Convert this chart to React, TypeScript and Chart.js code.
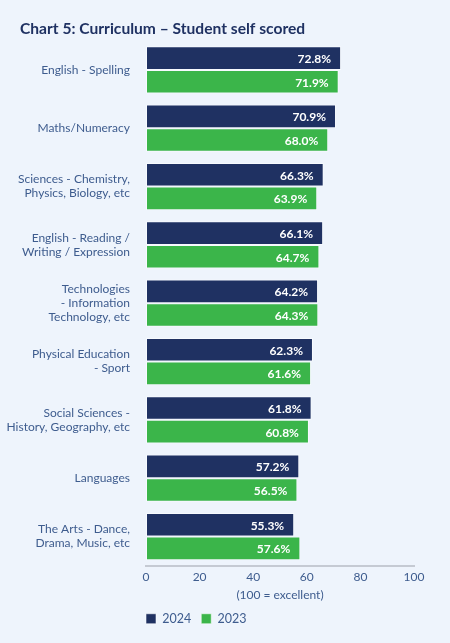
import React, { useEffect, useRef } from "react";
import { Chart, registerables } from "chart.js";

Chart.register(...registerables);

const TITLE = "Chart 5: Curriculum – Student self scored";
const categories: (string | string[])[] = [
  "English - Spelling",
  "Maths/Numeracy",
  ["Sciences - Chemistry,", "Physics, Biology, etc"],
  ["English - Reading /", "Writing / Expression"],
  ["Technologies", "- Information", "Technology, etc"],
  ["Physical Education", "- Sport"],
  ["Social Sciences -", "History, Geography, etc"],
  "Languages",
  ["The Arts - Dance,", "Drama, Music, etc"],
];
const values2024 = [72.8, 70.9, 66.3, 66.1, 64.2, 62.3, 61.8, 57.2, 55.3];
const values2023 = [71.9, 68.0, 63.9, 64.7, 64.3, 61.6, 60.8, 56.5, 57.6];
const seriesNames = ["2024", "2023"];
const xTickValues = [0, 20, 40, 60, 80, 100];
const xAxisTitle = "(100 = excellent)";

const NAVY = "#1f3162";
const GREEN = "#3bb54a";
const BG = "#eef4fc";
const LABEL = "#3e5c8e";
const FONT = "Lato";

const valueLabels = {
  id: "valueLabels",
  afterDatasetsDraw(chart: any) {
    const ctx = chart.ctx;
    ctx.save();
    ctx.fillStyle = "#ffffff";
    ctx.font = `bold 12px ${FONT}`;
    ctx.textAlign = "right";
    ctx.textBaseline = "middle";
    chart.data.datasets.forEach((ds: any, i: number) => {
      const meta = chart.getDatasetMeta(i);
      meta.data.forEach((el: any, j: number) => {
        const v = ds.data[j] as number;
        ctx.fillText(v.toFixed(1) + "%", el.x - 10, el.y + 1);
      });
    });
    ctx.restore();
  },
};

// shift title to the page's left margin and legend to the plot's left edge
const shiftBoxes = {
  id: "shiftBoxes",
  afterLayout(chart: any) {
    if (chart.titleBlock) {
      chart.titleBlock.left += 20;
      chart.titleBlock.right += 20;
    }
    if (chart.legend) {
      chart.legend.left -= 10;
      chart.legend.right -= 10;
    }
  },
};

export default function App() {
  const ref = useRef<HTMLCanvasElement | null>(null);
  useEffect(() => {
    if (!ref.current) return;
    const chart = new Chart(ref.current, {
      type: "bar",
      data: {
        labels: categories,
        datasets: [
          {
            label: seriesNames[0],
            data: values2024,
            backgroundColor: NAVY,
            borderColor: "rgba(255,255,255,0.55)",
            borderWidth: 1,
            borderSkipped: false,
            barPercentage: 1,
            categoryPercentage: 0.81,
          },
          {
            label: seriesNames[1],
            data: values2023,
            backgroundColor: GREEN,
            borderColor: "rgba(255,255,255,0.55)",
            borderWidth: 1,
            borderSkipped: false,
            barPercentage: 1,
            categoryPercentage: 0.81,
          },
        ],
      },
      options: {
        indexAxis: "y",
        animation: false,
        responsive: true,
        maintainAspectRatio: false,
        layout: { padding: { left: 0, right: 36, top: 0, bottom: 8 } },
        scales: {
          x: {
            min: 0,
            max: 100,
            afterBuildTicks: (scale: any) => {
              scale.ticks = xTickValues.map((v) => ({ value: v }));
            },
            grid: { display: false, drawTicks: false },
            border: { display: true, color: "#c5cad3", width: 2 },
            ticks: {
              color: LABEL,
              font: { family: FONT, size: 12 },
              padding: 4,
            },
            title: {
              display: true,
              text: xAxisTitle,
              color: LABEL,
              font: { family: FONT, size: 12 },
              padding: { top: 0, bottom: 0 },
            },
          },
          y: {
            grid: { display: false, drawTicks: false },
            border: { display: false },
            ticks: {
              color: LABEL,
              font: { family: FONT, size: 12, lineHeight: 1.17 },
              padding: 16,
            },
            afterFit: (scale: any) => {
              scale.width = 146;
            },
          },
        },
        plugins: {
          title: {
            display: true,
            text: TITLE,
            align: "start",
            color: NAVY,
            font: { family: FONT, size: 15.6, weight: "bold" },
            padding: { top: 20, bottom: 2 },
          },
          legend: {
            position: "bottom",
            align: "start",
            fullSize: false,
            labels: {
              boxWidth: 10,
              boxHeight: 10,
              color: LABEL,
              font: { family: FONT, size: 12.5 },
              padding: 10,
            },
          },
          tooltip: { enabled: false },
        },
      },
      plugins: [valueLabels, shiftBoxes],
    });
    return () => chart.destroy();
  }, []);
  return (
    <div
      style={{
        position: "fixed",
        left: 0,
        top: 0,
        width: 450,
        height: 643,
        background: BG,
      }}
    >
      <canvas ref={ref} />
    </div>
  );
}
